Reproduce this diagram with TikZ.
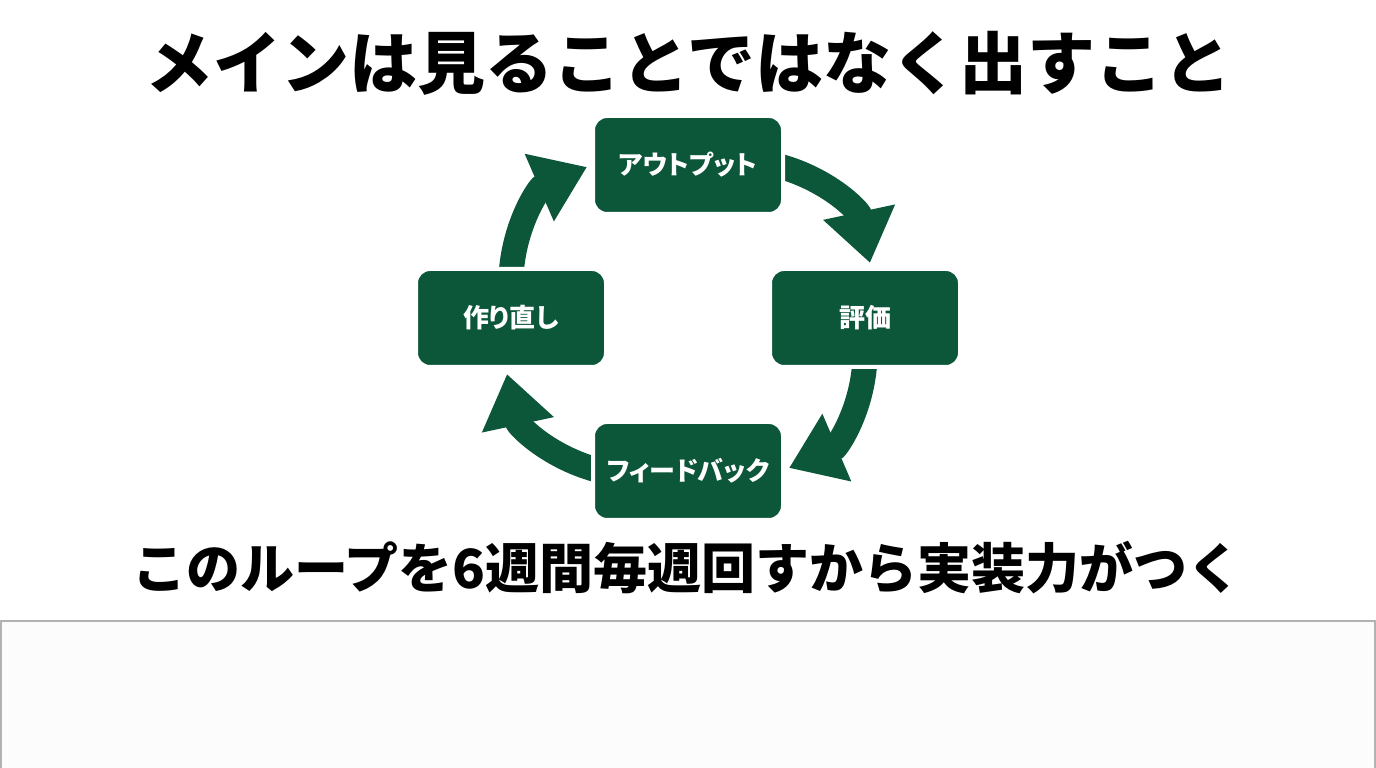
\documentclass[tikz,border=0pt]{standalone}
\usepackage{fontspec}
\setmainfont{Noto Sans CJK JP}
\newfontfamily\labelfont{Noto Sans CJK JP}[RawFeature=+palt]
\usetikzlibrary{arrows.meta,positioning,backgrounds}
\definecolor{loopgreen}{RGB}{12,86,58}

\begin{document}
\begin{tikzpicture}[x=1pt, y=1pt,
  stage/.style={rectangle, rounded corners=14pt, fill=loopgreen, draw=white, line width=4pt,
    minimum width=190pt, minimum height=98pt, text=white,
    font=\labelfont\fontsize{26}{30}\selectfont\bfseries},
  looparrow/.style={loopgreen, line width=25pt, -{Triangle[length=52pt, width=70pt]}}]
  \useasboundingbox (0,0) rectangle (1376,768);

  % title
  \node[font=\fontsize{68}{80}\selectfont\bfseries] (title) at (688,705) {メインは見ることではなく出すこと};

  % stages of the loop
  \node[stage] (out)  at (688,603) {アウトプット};
  \node[stage] (eval) at (865,450) {評価};
  \node[stage] (fb)   at (688,297) {フィードバック};
  \node[stage] (redo) at (511,450) {作り直し};

  % curved arrows behind the boxes
  \begin{scope}[on background layer]
    \draw[looparrow] ([xshift=-10pt]out.east) to[bend left=32] ([shift={(5,4)}]eval.north);
    \draw[looparrow] ([yshift=10pt]eval.south) to[bend left=32] ([shift={(4,3)}]fb.east);
    \draw[looparrow] ([xshift=10pt]fb.west) to[bend left=32] ([shift={(-4,-5)}]redo.south);
    \draw[looparrow] ([yshift=-10pt]redo.north) to[bend left=32] ([shift={(-4,-2)}]out.west);
  \end{scope}

  % caption
  \node[font=\fontsize{54}{60}\selectfont\bfseries] (caption) at (687,200) {このループを6週間毎週回すから実装力がつく};

  % empty panel below
  \draw[gray!60, line width=1.5pt, fill=gray!2] (1,147) rectangle (1375,-10);
\end{tikzpicture}
\end{document}
